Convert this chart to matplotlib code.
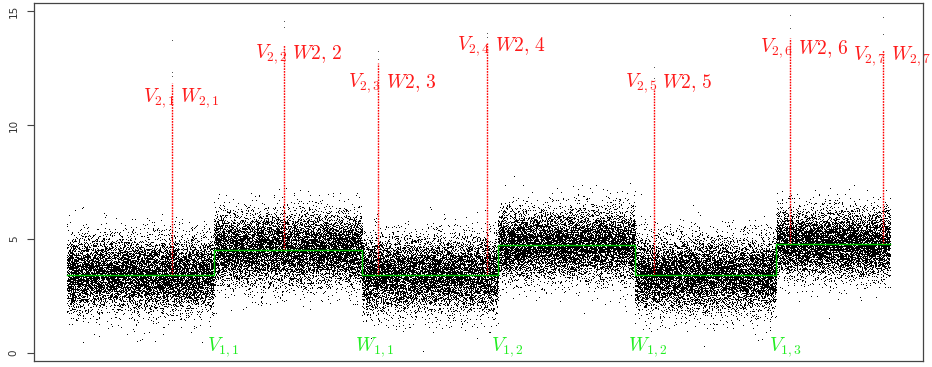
import numpy as np
import matplotlib
matplotlib.use('Agg')
import matplotlib.pyplot as plt

plt.rcParams['mathtext.fontset'] = 'cm'

# segment boundaries (sample index) and segment means
seg_edges = [0, 1470, 2950, 4310, 5680, 7090, 8230]
seg_means = [3.42, 4.52, 3.42, 4.74, 3.42, 4.78]
seg_sd = [0.8, 0.78, 0.8, 0.75, 0.8, 0.72]

# spikes: position, top of red line, isolated outlier points above
spike_x = [1050, 2170, 3110, 4200, 5870, 7230, 8160]
spike_top = [11.85, 13.5, 12.7, 13.6, 11.6, 13.8, 13.3]
spike_pts = [[12.1, 12.3, 13.7], [14.25, 14.5], [12.85, 13.2], [13.8, 14.0],
             [12.0, 12.5], [14.2, 14.8], [13.95, 14.7]]
spike_seg = [0, 1, 2, 2, 4, 5, 5]

# red labels
v2_labels = [r'$V_{2,1}$', r'$V_{2,2}$', r'$V_{2,3}$', r'$V_{2,4}$',
             r'$V_{2,5}$', r'$V_{2,6}$', r'$V_{2,7}$']
w2_labels = [r'$W_{2,1}$', r'$W2,\,2$', r'$W2,\,3$', r'$W2,\,4$',
             r'$W2,\,5$', r'$W2,\,6$', r'$W_{2,7}$']
label_y = [11.2, 13.1, 11.85, 13.45, 11.85, 13.35, 13.0]

# green labels at change points
change_labels = [r'$V_{1,1}$', r'$W_{1,1}$', r'$V_{1,2}$', r'$W_{1,2}$', r'$V_{1,3}$']

# background noise cloud around each segment mean
rng = np.random.default_rng(3)
xs, ys = [], []
for i, m in enumerate(seg_means):
    a, b = seg_edges[i], seg_edges[i + 1]
    n = (b - a) * 7
    xs.append(rng.uniform(a, b, n))
    ys.append(rng.normal(m, seg_sd[i], n))
xs = np.concatenate(xs)
ys = np.concatenate(ys)

fig = plt.figure(figsize=(9.32, 3.67), dpi=100)
ax = fig.add_axes([34 / 932, 6 / 367, 889 / 932, 358 / 367])

ax.plot(xs, ys, ',', color='black')

# outlier points at spikes
for x, pts in zip(spike_x, spike_pts):
    ax.plot([x] * len(pts), pts, ',', color='#555555')

# red dotted spike lines
for x, top, s in zip(spike_x, spike_top, spike_seg):
    ax.plot([x, x], [seg_means[s], top], color='red', lw=1.0,
            linestyle=(0, (1.2, 0.8)))

# green step line
step_x, step_y = [], []
for i, m in enumerate(seg_means):
    step_x += [seg_edges[i], seg_edges[i + 1]]
    step_y += [m, m]
ax.plot(step_x, step_y, color='#00cc00', lw=1.0)

for x, y, v, w in zip(spike_x, label_y, v2_labels, w2_labels):
    ax.text(x + 30, y, v, color='#ff1a1a', fontsize=14, ha='right', va='center')
    ax.text(x + 80, y, w, color='#ff1a1a', fontsize=14, ha='left', va='center')

for x, lab in zip(seg_edges[1:-1], change_labels):
    ax.text(x - 70, 0.25, lab, color='#22ee22', fontsize=14, ha='left', va='center')

ax.set_xlim(-330, 8560)
ax.set_ylim(-0.35, 15.35)
ax.set_xticks([])
ax.set_yticks([0, 5, 10, 15])
ax.set_yticklabels(['0', '5', '10', '15'], rotation=90, va='center', fontsize=7.5, color='#333333')
ax.tick_params(axis='y', length=5, color='#444444', pad=6)
for sp in ax.spines.values():
    sp.set_color('#444444')
    sp.set_linewidth(0.9)

plt.savefig('out.png', dpi=100)
